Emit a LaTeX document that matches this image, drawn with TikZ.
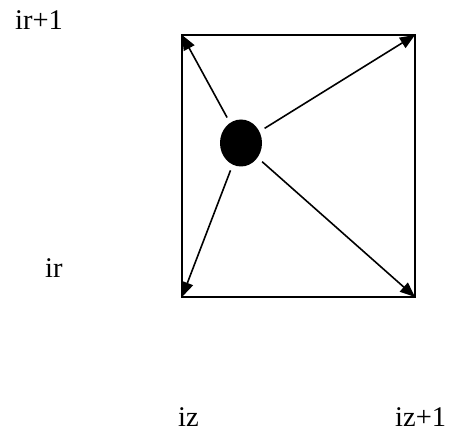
\documentclass[tikz,border=0pt]{standalone}
\usepackage{fontspec}
\setmainfont{Liberation Serif}
\usetikzlibrary{arrows.meta, positioning, shapes.geometric}

\begin{document}
\begin{tikzpicture}[x=1pt, y=-1pt,
  lbl/.style={anchor=base west, inner sep=0pt, font=\fontsize{28.5}{34}\selectfont},
  dot/.style={ellipse, fill=black, minimum width=42pt, minimum height=47pt, inner sep=0pt},
  ray/.style={line width=1.6pt, shorten <=6pt, -{Triangle[length=15pt, width=12pt]}}]

\useasboundingbox (0,0) rectangle (456,438);

% Cell corners
\coordinate (tl) at (182,35);
\coordinate (tr) at (415,35);
\coordinate (bl) at (182,297);
\coordinate (br) at (415,297);

% Cell
\draw[line width=2pt] (tl) -- (tr) -- (br) -- (bl) -- cycle;

% Particle
\node[dot] (p) at (241,143) {};

% Rays to corners
\draw[ray] (p) -- (tl);
\draw[ray] (p) -- (tr);
\draw[ray] (p) -- (bl);
\draw[ray] (p) -- (br);

% Index labels
\node[lbl] (irp) at (15,30) {ir+1};
\node[lbl] (ir) at (45,278) {ir};
\node[lbl] (iz) at (178,427) {iz};
\node[lbl] (izp) at (395,427) {iz+1};

\end{tikzpicture}
\end{document}
